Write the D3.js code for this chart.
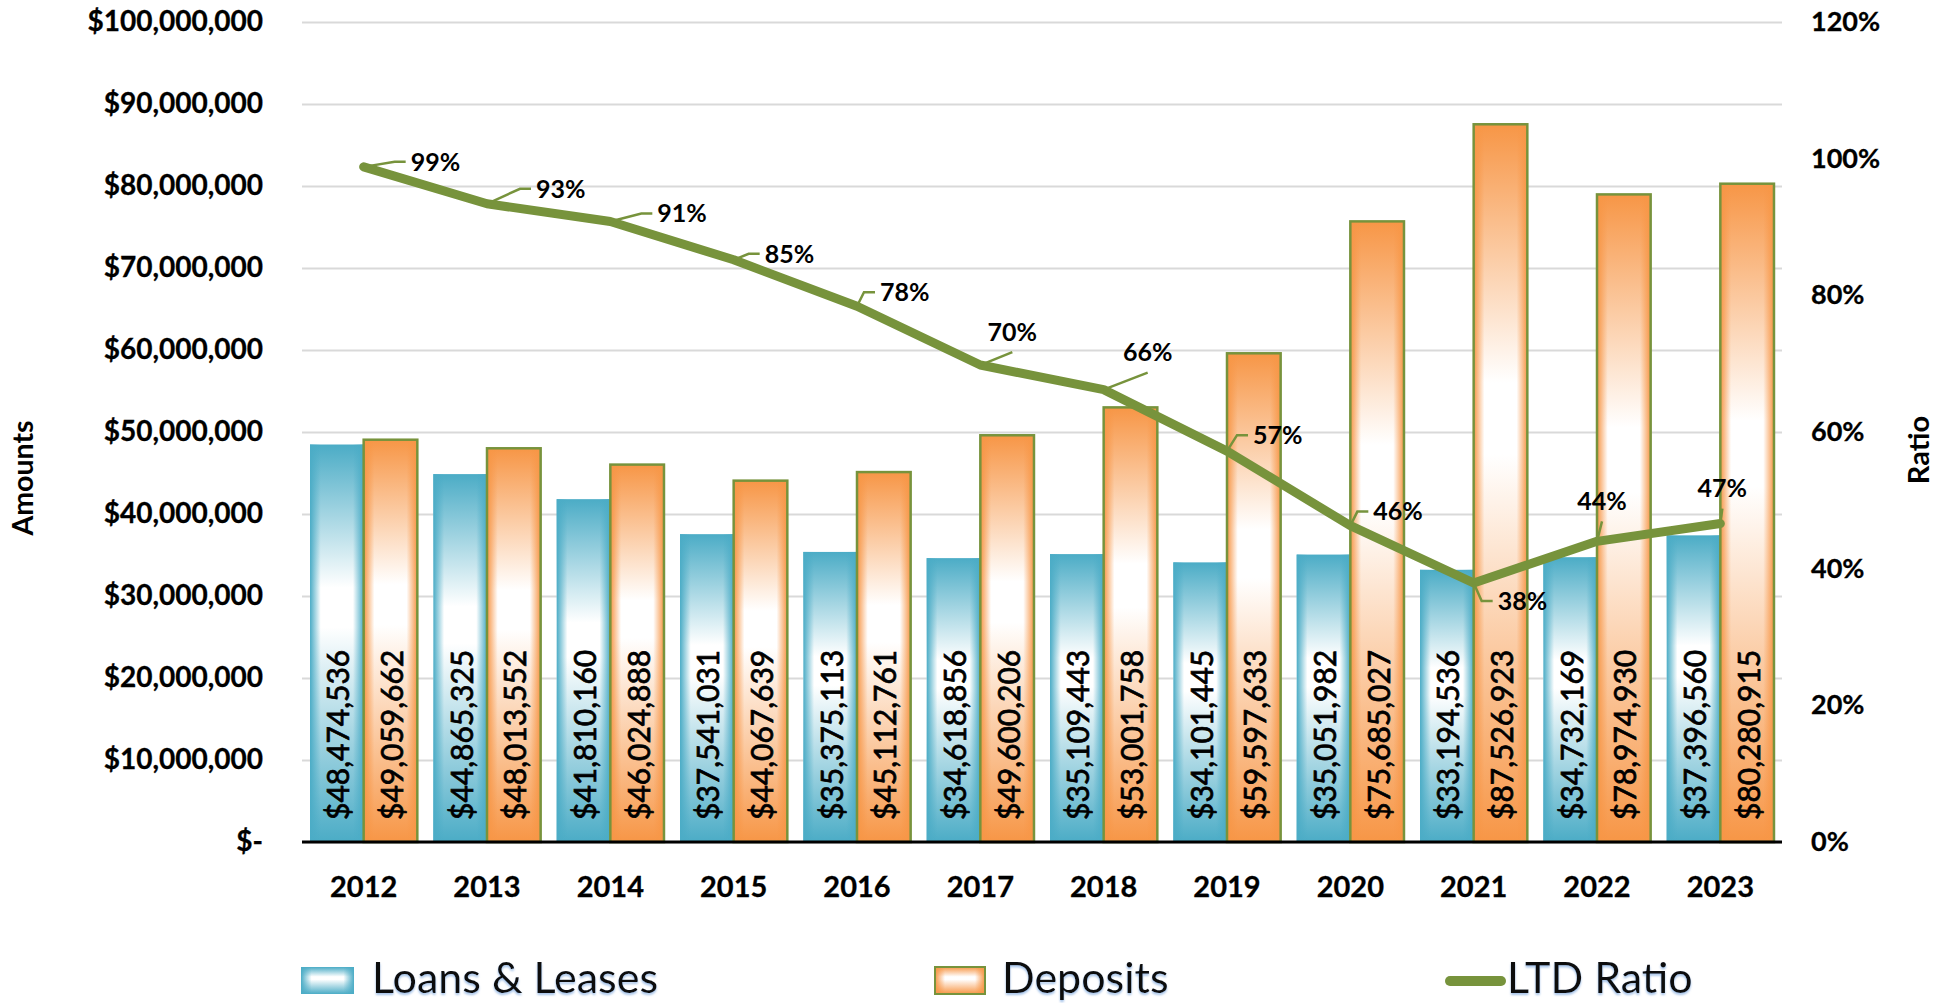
<!DOCTYPE html>
<html>
<head>
<meta charset="utf-8">
<script src="https://cdn.jsdelivr.net/npm/d3@7"></script>
<style>
  body { margin: 0; background: #fff; }
  svg { display: block; font-family: Lato, 'Open Sans', sans-serif; }
</style>
</head>
<body>
<svg width="1950" height="1003"></svg>
<script>
const years = ['2012', '2013', '2014', '2015', '2016', '2017', '2018', '2019', '2020', '2021', '2022', '2023'];
const loans = [48474536, 44865325, 41810160, 37541031, 35375113, 34618856, 35109443, 34101445, 35051982, 33194536, 34732169, 37396560];
const deposits = [49059662, 48013552, 46024888, 44067639, 45112761, 49600206, 53001758, 59597633, 75685027, 87526923, 78974930, 80280915];
const ltdRatio = [0.988, 0.934, 0.908, 0.852, 0.784, 0.698, 0.662, 0.572, 0.463, 0.379, 0.440, 0.466];
const amountTicks = [0, 10000000, 20000000, 30000000, 40000000, 50000000, 60000000, 70000000, 80000000, 90000000, 100000000];
const ratioTicks = [0, 0.2, 0.4, 0.6, 0.8, 1.0, 1.2];
const seriesNames = ['Loans & Leases', 'Deposits', 'LTD Ratio'];

// where each ratio label sits relative to its point: side, dx, dy
const labelPlace = [
  ['r', 47, -5], ['r', 49, -15], ['r', 47, -8], ['r', 31, -6],
  ['r', 23, -14], ['a', 32, -33], ['a', 44, -37], ['r', 26, -16],
  ['r', 23, -14], ['r', 24, 18], ['a', 5, -40], ['a', 2, -35]
];

const blue = '#4BACC6';
const orange = '#F79646';
const green = '#77933C';

const svg = d3.select('svg');
const width = +svg.attr('width');
const height = +svg.attr('height');

const plotLeft = 302;
const plotRight = 1782;
const plotTop = 22;
const plotBottom = 842;

const x0 = d3.scaleBand()
  .domain(years)
  .range([plotLeft, plotRight])
  .paddingInner(0.13)
  .paddingOuter(0.065);

const x1 = d3.scaleBand()
  .domain(['loans', 'deposits'])
  .range([0, x0.bandwidth()]);

const yLeft = d3.scaleLinear().domain([0, 100000000]).range([plotBottom, plotTop]);
const yRight = d3.scaleLinear().domain([0, 1.2]).range([plotBottom, plotTop]);

// gradients: vertical colour-white-colour plus edge shading
const defs = svg.append('defs');

function addGradients(name, color) {
  const v = defs.append('linearGradient')
      .attr('id', 'v' + name)
      .attr('x1', 0).attr('y1', 0).attr('x2', 0).attr('y2', 1);
  v.append('stop').attr('offset', 0).attr('stop-color', color);
  v.append('stop').attr('offset', 0.36).attr('stop-color', '#fff');
  v.append('stop').attr('offset', 0.46).attr('stop-color', '#fff');
  v.append('stop').attr('offset', 1).attr('stop-color', color);

  const h = defs.append('linearGradient')
      .attr('id', 'h' + name)
      .attr('x1', 0).attr('y1', 0).attr('x2', 1).attr('y2', 0);
  h.append('stop').attr('offset', 0).attr('stop-color', color).attr('stop-opacity', 1);
  h.append('stop').attr('offset', 0.2).attr('stop-color', color).attr('stop-opacity', 0);
  h.append('stop').attr('offset', 0.8).attr('stop-color', color).attr('stop-opacity', 0);
  h.append('stop').attr('offset', 1).attr('stop-color', color).attr('stop-opacity', 1);
}
addGradients('Blue', blue);
addGradients('Orange', orange);

const shadow = defs.append('filter')
    .attr('id', 'txtShadow')
    .attr('x', -0.1).attr('y', -0.2).attr('width', 1.2).attr('height', 1.5);
shadow.append('feDropShadow')
    .attr('dx', 0).attr('dy', 2).attr('stdDeviation', 1)
    .attr('flood-color', '#8FB4E3').attr('flood-opacity', 0.8);

// gridlines
svg.append('g')
    .attr('transform', `translate(${plotLeft}, 0)`)
    .call(d3.axisLeft(yLeft).tickValues(amountTicks).tickSize(-(plotRight - plotLeft)).tickFormat(''))
    .call(g => g.select('.domain').remove())
    .call(g => g.selectAll('line').attr('stroke', '#D9D9D9').attr('stroke-width', 2));

// left axis labels
svg.append('g')
    .attr('transform', `translate(${plotLeft}, 0)`)
    .call(d3.axisLeft(yLeft)
      .tickValues(amountTicks)
      .tickSize(0)
      .tickPadding(39)
      .tickFormat(d => d === 0 ? '$-' : d3.format('$,')(d)))
    .call(g => g.select('.domain').remove())
    .call(g => g.selectAll('text')
      .attr('font-family', 'Lato, sans-serif')
      .attr('font-size', 28)
      .attr('font-weight', 'bold')
      .attr('fill', '#000')
      .attr('stroke', '#000')
      .attr('stroke-width', 0.3));

// right axis labels
svg.append('g')
    .attr('transform', `translate(${plotRight}, 0)`)
    .call(d3.axisRight(yRight)
      .tickValues(ratioTicks)
      .tickSize(0)
      .tickPadding(29)
      .tickFormat(d3.format('.0%')))
    .call(g => g.select('.domain').remove())
    .call(g => g.selectAll('text')
      .attr('font-family', 'Lato, sans-serif')
      .attr('font-size', 27)
      .attr('font-weight', 'bold')
      .attr('fill', '#000')
      .attr('stroke', '#000')
      .attr('stroke-width', 0.3));

// category labels
svg.append('g')
    .attr('transform', `translate(0, ${plotBottom})`)
    .call(d3.axisBottom(x0).tickSize(0))
    .call(g => g.select('.domain').remove())
    .call(g => g.selectAll('text')
      .attr('y', 45)
      .attr('dy', '0.35em')
      .attr('font-family', 'Lato, sans-serif')
      .attr('font-size', 29)
      .attr('font-weight', 'bold')
      .attr('fill', '#000')
      .attr('stroke', '#000')
      .attr('stroke-width', 0.3));

// axis titles
svg.append('text')
    .attr('transform', 'translate(23, 478) rotate(-90)')
    .attr('text-anchor', 'middle')
    .attr('dy', '0.35em')
    .attr('font-size', 28.5)
    .attr('font-weight', 'bold')
    .text('Amounts');

svg.append('text')
    .attr('transform', 'translate(1919, 450) rotate(-90)')
    .attr('text-anchor', 'middle')
    .attr('dy', '0.35em')
    .attr('font-size', 29)
    .attr('font-weight', 'bold')
    .text('Ratio');

// bars
const rows = years.map((year, i) => ({ year, loans: loans[i], deposits: deposits[i] }));

const groups = svg.append('g')
  .selectAll('g')
  .data(rows)
  .join('g')
    .attr('transform', d => `translate(${x0(d.year)}, 0)`);

const series = [
  { key: 'loans', name: 'Blue', stroke: 'none' },
  { key: 'deposits', name: 'Orange', stroke: green }
];

series.forEach(s => {
  groups.append('rect')
      .attr('x', x1(s.key))
      .attr('y', d => yLeft(d[s.key]))
      .attr('width', x1.bandwidth())
      .attr('height', d => plotBottom - yLeft(d[s.key]))
      .attr('fill', `url(#v${s.name})`);

  groups.append('rect')
      .attr('x', x1(s.key))
      .attr('y', d => yLeft(d[s.key]))
      .attr('width', x1.bandwidth())
      .attr('height', d => plotBottom - yLeft(d[s.key]))
      .attr('fill', `url(#h${s.name})`)
      .attr('stroke', s.stroke)
      .attr('stroke-width', 2.5);

  groups.append('text')
      .attr('transform', `translate(${x1(s.key) + x1.bandwidth() / 2 + 2}, ${plotBottom - 22}) rotate(-90)`)
      .attr('dy', '0.35em')
      .attr('font-size', 30)
      .attr('fill', '#000')
      .attr('stroke', '#000')
      .attr('stroke-width', 0.7)
      .text(d => d3.format('$,')(d[s.key]));
});

// baseline
svg.append('line')
    .attr('x1', plotLeft)
    .attr('x2', plotRight)
    .attr('y1', plotBottom)
    .attr('y2', plotBottom)
    .attr('stroke', '#000')
    .attr('stroke-width', 3);

// LTD ratio line
const px = i => x0(years[i]) + x0.bandwidth() / 2;

svg.append('path')
    .datum(ltdRatio)
    .attr('fill', 'none')
    .attr('stroke', green)
    .attr('stroke-width', 9)
    .attr('stroke-linejoin', 'round')
    .attr('stroke-linecap', 'round')
    .attr('d', d3.line()
      .x((d, i) => px(i))
      .y(d => yRight(d)));

// ratio labels with leader lines
const labels = svg.append('g')
  .selectAll('g')
  .data(ltdRatio)
  .join('g');

labels.append('path')
    .attr('fill', 'none')
    .attr('stroke', green)
    .attr('stroke-width', 2.5)
    .attr('d', (d, i) => {
      const [side, dx, dy] = labelPlace[i];
      const x = px(i);
      const y = yRight(d);
      if (side === 'r') {
        const tx = x + dx;
        const ty = y + dy;
        return `M${x},${y} L${tx - 16},${ty} L${tx - 5},${ty}`;
      }
      return `M${x},${y} L${x + dx},${y + dy + 20}`;
    });

labels.append('text')
    .attr('x', (d, i) => px(i) + labelPlace[i][1])
    .attr('y', (d, i) => yRight(d) + labelPlace[i][2])
    .attr('dy', '0.35em')
    .attr('text-anchor', (d, i) => labelPlace[i][0] === 'r' ? 'start' : 'middle')
    .attr('font-size', 25)
    .attr('font-weight', 'bold')
    .attr('fill', '#000')
    .text(d => d3.format('.0%')(d));

// legend
const legendX = [301, 935, 1445];
const legend = svg.append('g')
  .selectAll('g')
  .data(seriesNames)
  .join('g')
    .attr('transform', (d, i) => `translate(${legendX[i]}, 967)`);

legend.filter((d, i) => i < 2).append('rect')
    .attr('width', (d, i) => i === 0 ? 53 : 50)
    .attr('height', 27)
    .attr('fill', (d, i) => i === 0 ? 'url(#vBlue)' : 'url(#vOrange)');

legend.filter((d, i) => i < 2).append('rect')
    .attr('width', (d, i) => i === 0 ? 53 : 50)
    .attr('height', 27)
    .attr('fill', (d, i) => i === 0 ? 'url(#hBlue)' : 'url(#hOrange)')
    .attr('stroke', (d, i) => i === 0 ? 'none' : green)
    .attr('stroke-width', 2);

legend.filter((d, i) => i === 2).append('line')
    .attr('x1', 5)
    .attr('x2', 56)
    .attr('y1', 14)
    .attr('y2', 14)
    .attr('stroke', green)
    .attr('stroke-width', 10)
    .attr('stroke-linecap', 'round');

legend.append('text')
    .attr('x', (d, i) => [71, 67, 62][i])
    .attr('y', 26)
    .attr('font-size', 43)
    .attr('fill', '#111')
    .attr('filter', 'url(#txtShadow)')
    .text(d => d);
</script>
</body>
</html>
